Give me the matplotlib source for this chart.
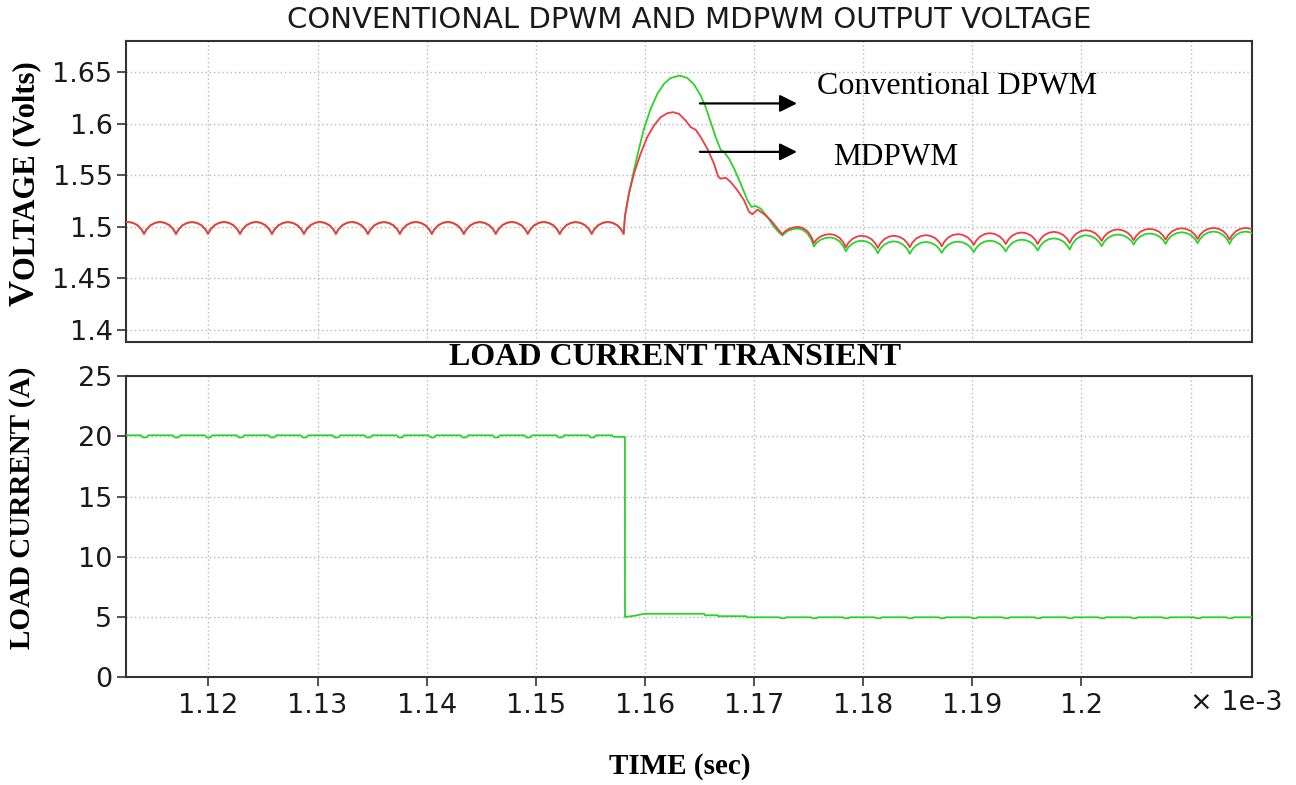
import matplotlib
matplotlib.use("Agg")
import matplotlib.pyplot as plt

# ---------------- data (time axis in units of 1e-3 s) ----------------
x_ticks = [1.12, 1.13, 1.14, 1.15, 1.16, 1.17, 1.18, 1.19, 1.20]
x_tick_labels = ["1.12", "1.13", "1.14", "1.15", "1.16", "1.17", "1.18", "1.19", "1.2"]
v_ticks = [1.40, 1.45, 1.50, 1.55, 1.60, 1.65]
v_tick_labels = ["1.4", "1.45", "1.5", "1.55", "1.6", "1.65"]
i_ticks = [0, 5, 10, 15, 20, 25]

# steady-state ripple before the load step (both controllers overlap)
pre_cusp_t = [1.11117, 1.11410, 1.11703, 1.11996, 1.12289, 1.12582, 1.12875, 1.13168,
              1.13461, 1.13754, 1.14047, 1.14340, 1.14633, 1.14926, 1.15219, 1.15512,
              1.15805]
pre_cusp_v = [1.4932, 1.4932, 1.4931, 1.4932, 1.4932, 1.4931, 1.4932, 1.4932,
              1.4931, 1.4932, 1.4932, 1.4931, 1.4932, 1.4932, 1.4931, 1.4932,
              1.4932]
pre_crest_v = [1.5048, 1.5048, 1.5047, 1.5048, 1.5048, 1.5047, 1.5048, 1.5048,
               1.5047, 1.5048, 1.5048, 1.5047, 1.5048, 1.5048, 1.5047, 1.5048]

# shape of one ripple arc (phase within period, fraction of crest)
ripple_phase = [0.0, 0.08, 0.20, 0.35, 0.50, 0.65, 0.80, 0.92]
ripple_level = [0.0, 0.38, 0.72, 0.93, 1.00, 0.93, 0.72, 0.38]

# overshoot after the load step
conv_tr_t = [1.158165, 1.15853, 1.15899, 1.15945, 1.15991, 1.16052, 1.16113, 1.16174,
             1.16235, 1.16318, 1.16388, 1.16450, 1.16511, 1.16557, 1.16602, 1.16648,
             1.16694, 1.16725, 1.16771, 1.16817, 1.16878, 1.16939, 1.16976, 1.17015,
             1.17061, 1.17122, 1.17183, 1.17230]
conv_tr_v = [1.5103, 1.5323, 1.5548, 1.5758, 1.5952, 1.6145, 1.6290, 1.6387,
             1.6445, 1.6468, 1.6445, 1.6381, 1.6274, 1.6161, 1.6016, 1.5871,
             1.5748, 1.5726, 1.5661, 1.5565, 1.5419, 1.5258, 1.5194, 1.5203,
             1.5177, 1.5097, 1.5000, 1.4945]
md_tr_t = [1.158165, 1.15853, 1.15899, 1.15960, 1.16021, 1.16083, 1.16144, 1.16205,
           1.16257, 1.16312, 1.16373, 1.16419, 1.16465, 1.16511, 1.16572, 1.16633,
           1.16670, 1.16694, 1.16740, 1.16786, 1.16847, 1.16908, 1.16954, 1.16985,
           1.17031, 1.17092, 1.17153, 1.17214]
md_tr_v = [1.5103, 1.5323, 1.5516, 1.5710, 1.5871, 1.5984, 1.6065, 1.6103,
           1.6113, 1.6097, 1.6032, 1.5968, 1.5942, 1.5871, 1.5758, 1.5613,
           1.5490, 1.5468, 1.5477, 1.5435, 1.5355, 1.5258, 1.5145, 1.5123,
           1.5168, 1.5123, 1.5065, 1.4984]

# ripple after the load step
post_cusp_t = [1.17260, 1.17548, 1.17841, 1.18134, 1.18427, 1.18720, 1.19013, 1.19306,
               1.19599, 1.19892, 1.20185, 1.20478, 1.20771, 1.21064, 1.21357, 1.21650]
md_post_cusp_v = [1.4929, 1.4843, 1.4803, 1.4796, 1.4803, 1.4812, 1.4825, 1.4834,
                  1.4834, 1.4844, 1.4864, 1.4871, 1.4877, 1.4884, 1.4877, 1.4880]
md_post_crest_v = [1.5000, 1.4930, 1.4914, 1.4914, 1.4920, 1.4930, 1.4939, 1.4946,
                   1.4952, 1.4968, 1.4975, 1.4981, 1.4987, 1.4990, 1.4990]
conv_post_cusp_v = [1.4916, 1.4810, 1.4764, 1.4745, 1.4739, 1.4748, 1.4755, 1.4761,
                    1.4771, 1.4780, 1.4813, 1.4829, 1.4835, 1.4842, 1.4835, 1.4840]
conv_post_crest_v = [1.4984, 1.4898, 1.4866, 1.4860, 1.4854, 1.4857, 1.4866, 1.4876,
                     1.4889, 1.4919, 1.4926, 1.4936, 1.4948, 1.4955, 1.4955]

# load current
cur_pre_plateau = 20.08
cur_pre_dip = 19.90
cur_step_t = [1.15700, 1.15711, 1.158165, 1.158170, 1.15900, 1.15994, 1.16543, 1.16548,
              1.16665, 1.16670, 1.16929, 1.16934]
cur_step_v = [20.08, 19.95, 19.95, 5.00, 5.10, 5.27, 5.27, 5.15,
              5.15, 5.07, 5.07, 4.98]
cur_post_plateau = 4.98
cur_post_dip = 4.90

# ---------------- helpers ----------------
def ripple_trace(cusp_t, cusp_v, crest_v):
    ts, vs = [], []
    for k in range(len(crest_v)):
        t0, t1 = cusp_t[k], cusp_t[k + 1]
        for p, f in zip(ripple_phase, ripple_level):
            base = cusp_v[k] if p <= 0.5 else cusp_v[k + 1]
            ts.append(t0 + p * (t1 - t0))
            vs.append(base + f * (crest_v[k] - base))
    ts.append(cusp_t[-1])
    vs.append(cusp_v[-1])
    return ts, vs


def notches(cusps, plateau, dip):
    ts, vs = [], []
    for tc in cusps:
        ts += [tc - 0.0003, tc - 0.0001, tc + 0.0002, tc + 0.0004]
        vs += [plateau, dip, dip, plateau]
    return ts, vs


pre_t, pre_v = ripple_trace(pre_cusp_t, pre_cusp_v, pre_crest_v)
md_post_t, md_post_v = ripple_trace(post_cusp_t, md_post_cusp_v, md_post_crest_v)
cv_post_t, cv_post_v = ripple_trace(post_cusp_t, conv_post_cusp_v, conv_post_crest_v)

md_t = pre_t + md_tr_t + md_post_t
md_v = pre_v + md_tr_v + md_post_v
cv_t = pre_t + conv_tr_t + cv_post_t
cv_v = pre_v + conv_tr_v + cv_post_v

n1_t, n1_v = notches(pre_cusp_t[1:-1], cur_pre_plateau, cur_pre_dip)
n2_t, n2_v = notches(post_cusp_t[:-1], cur_post_plateau, cur_post_dip)
cur_t = [1.1110] + n1_t + cur_step_t + n2_t + [1.2170]
cur_v = [cur_pre_plateau] + n1_v + cur_step_v + n2_v + [cur_post_plateau]

# ---------------- figure ----------------
GREEN = "#2ad42a"
RED = "#f23a44"
GRID = "#b8b8b8"
SPINE = "#333333"
SERIF = "Liberation Serif"
SANS = "DejaVu Sans"
XLIM = (1.11242, 1.21562)

fig = plt.figure(figsize=(12.96, 7.85), dpi=100)
ax1 = fig.add_axes([0.0970, 0.5647, 0.8690, 0.3835])
ax2 = fig.add_axes([0.0970, 0.1372, 0.8690, 0.3838])

for ax in (ax1, ax2):
    ax.set_xlim(*XLIM)
    ax.set_xticks(x_ticks)
    ax.set_xticks([1.21], minor=True)
    ax.grid(True, which="both", linestyle=(0, (1, 2)), color=GRID, linewidth=1.0)
    ax.tick_params(which="minor", length=0)
    for s in ax.spines.values():
        s.set_color(SPINE)
        s.set_linewidth(1.5)
    ax.tick_params(axis="y", length=6.5, width=1.2, color=SPINE, pad=3,
                   labelsize=19.5, labelcolor="#1a1a1a")
    ax.set_axisbelow(True)

ax1.plot(cv_t, cv_v, color=GREEN, lw=1.3, zorder=3)
ax1.plot(md_t, md_v, color=RED, lw=1.3, zorder=4)
ax1.set_ylim(1.3886, 1.6807)
ax1.set_yticks(v_ticks)
ax1.set_yticklabels(v_tick_labels, family=SANS)
ax1.tick_params(axis="x", which="both", bottom=False, labelbottom=False)

ax1.annotate("", xy=(1.17393, 1.6198), xytext=(1.16503, 1.6198),
             arrowprops=dict(arrowstyle="-|>", color="black", lw=1.6,
                             mutation_scale=26, shrinkA=0, shrinkB=0), zorder=5)
ax1.annotate("", xy=(1.17393, 1.5728), xytext=(1.16503, 1.5728),
             arrowprops=dict(arrowstyle="-|>", color="black", lw=1.6,
                             mutation_scale=26, shrinkA=0, shrinkB=0), zorder=5)
ax1.text(1.17576, 1.6366, "Conventional DPWM", family=SERIF, fontsize=23,
         ha="left", va="center", zorder=6)
ax1.text(1.17722, 1.5676, "MDPWM", family=SERIF, fontsize=22.5,
         ha="left", va="center", zorder=6)

ax2.plot(cur_t, cur_v, color=GREEN, lw=1.3, zorder=3)
ax2.set_ylim(0, 25)
ax2.set_yticks(i_ticks)
ax2.set_yticklabels([str(v) for v in i_ticks], family=SANS)
ax2.set_xticklabels(x_tick_labels, family=SANS)
ax2.tick_params(axis="x", which="major", length=6.5, width=1.2, color=SPINE, pad=5,
                labelsize=19.5, labelcolor="#1a1a1a")

# texts
fig.text(0.5316, 0.974, "CONVENTIONAL DPWM AND MDPWM OUTPUT VOLTAGE", family=SANS,
         fontsize=21, ha="center", va="center", color="#1a1a1a")
# y label of the top panel: enlarged first letter, as in the original
ylab_x = 0.0262
ylab_y = 1 - 280 / 785
fig.text(ylab_x, ylab_y, "V", family=SERIF, fontweight="bold", fontsize=26,
         rotation=90, rotation_mode="anchor", ha="right", va="baseline")
fig.text(ylab_x, ylab_y, "OLTAGE (Volts)", family=SERIF, fontweight="bold",
         fontsize=22, rotation=90, rotation_mode="anchor", ha="left", va="baseline")
fig.text(0.5208, 0.545, "LOAD CURRENT TRANSIENT", family=SERIF, fontweight="bold",
         fontsize=23, ha="center", va="center")
fig.text(0.0175, 0.353, "LOAD CURRENT (A)", family=SERIF, fontweight="bold", fontsize=21,
         rotation=90, ha="center", va="center")
fig.text(0.9537, 0.1045, "\u00d7 1e-3", family=SANS, fontsize=19.5, ha="center",
         va="center", color="#1a1a1a")
fig.text(0.5247, 0.023, "TIME (sec)", family=SERIF, fontweight="bold", fontsize=21,
         ha="center", va="center")

fig.savefig("out.png", dpi=100)
